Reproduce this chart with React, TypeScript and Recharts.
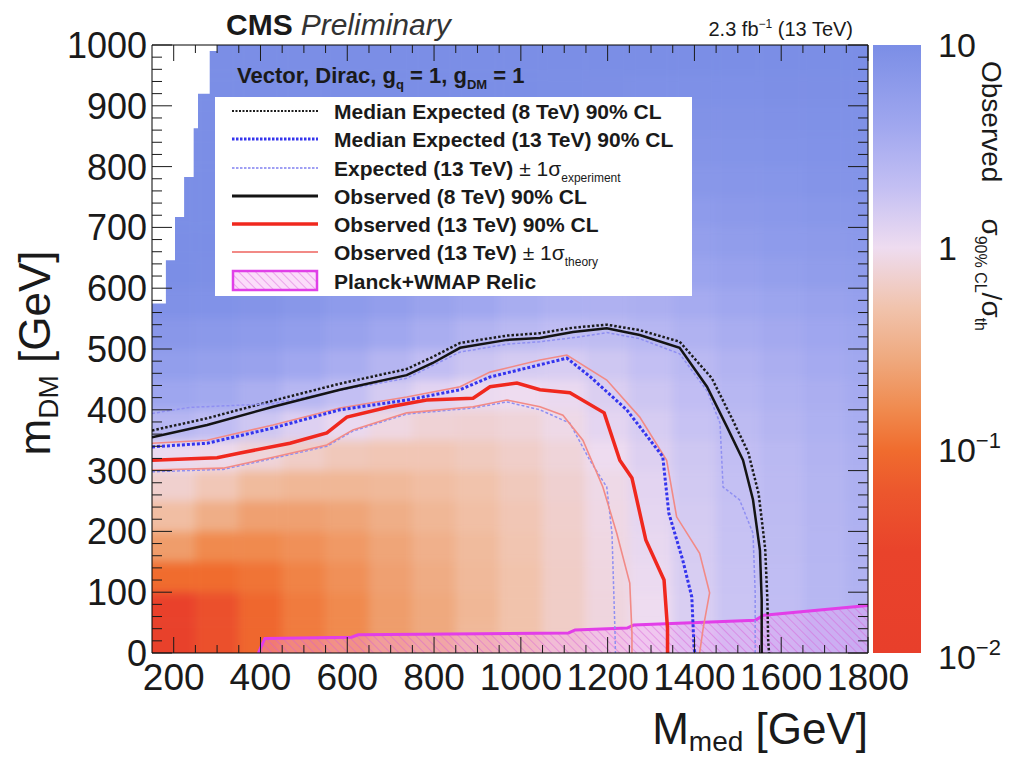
import React from "react";
import { ComposedChart, Line, Area, Bar, XAxis, YAxis, ReferenceArea } from "recharts";

const W = 1011;
const H = 760;
const FONT = '"Liberation Sans", Arial, Helvetica, sans-serif';
const INK = "#1a1a1a";

// tick labels
const medMajorTicks = [200, 400, 600, 800, 1000, 1200, 1400, 1600, 1800];
const dmMajorTicks = [0, 100, 200, 300, 400, 500, 600, 700, 800, 900, 1000];
const zMajorTicks = [0.01, 0.1, 1, 10];
const zTickLabels: Record<string, [string, string]> = {
  "0.01": ["10", "\u22122"],
  "0.1": ["10", "\u22121"],
  "1": ["1", ""],
  "10": ["10", ""],
};

// 2D histogram bins: M_med edges, m_DM edges
const mMedEdges = [150, 250, 350, 450, 550, 650, 750, 850, 950, 1050, 1150, 1250, 1350, 1450, 1550, 1650, 1750, 1800];
const mDmEdges = [0, 50, 100, 150, 200, 250, 300, 350, 400, 450, 500, 550, 600, 650, 700, 750, 800, 850, 900, 950, 1000];

// log10(sigma_90%CL / sigma_th), one row per m_DM bin, bottom row first
const heatRows = [
  [-1.8, -1.3, -1.05, -0.9, -0.8, -0.65, -0.55, -0.4, -0.3, -0.18, -0.08, -0.01, 0.15, 0.25, 0.32, 0.4, 0.45],
  [-1.7, -1.3, -1.05, -0.9, -0.8, -0.65, -0.55, -0.42, -0.3, -0.18, -0.08, 0.0, 0.15, 0.25, 0.32, 0.4, 0.45],
  [-1.0, -1.0, -0.95, -0.85, -0.75, -0.62, -0.52, -0.4, -0.3, -0.18, -0.07, 0.02, 0.16, 0.26, 0.33, 0.4, 0.46],
  [-0.65, -0.8, -0.8, -0.75, -0.68, -0.58, -0.48, -0.38, -0.28, -0.17, -0.06, 0.04, 0.17, 0.27, 0.34, 0.41, 0.47],
  [-0.35, -0.5, -0.62, -0.62, -0.58, -0.5, -0.42, -0.34, -0.26, -0.16, -0.05, 0.06, 0.18, 0.28, 0.35, 0.42, 0.48],
  [-0.15, -0.25, -0.38, -0.42, -0.42, -0.4, -0.35, -0.3, -0.23, -0.14, -0.04, 0.08, 0.2, 0.29, 0.36, 0.43, 0.49],
  [0.02, -0.02, -0.1, -0.18, -0.24, -0.26, -0.26, -0.22, -0.17, -0.1, 0.0, 0.12, 0.22, 0.31, 0.38, 0.45, 0.5],
  [0.4, 0.33, 0.22, 0.12, 0.03, -0.06, -0.12, -0.13, -0.1, -0.04, 0.07, 0.17, 0.27, 0.35, 0.42, 0.48, 0.53],
  [0.62, 0.58, 0.5, 0.4, 0.3, 0.18, 0.08, 0.02, 0.0, 0.03, 0.13, 0.23, 0.32, 0.4, 0.46, 0.51, 0.56],
  [0.75, 0.72, 0.68, 0.6, 0.52, 0.42, 0.32, 0.24, 0.18, 0.16, 0.22, 0.3, 0.38, 0.45, 0.51, 0.56, 0.59],
  [0.85, 0.83, 0.8, 0.75, 0.68, 0.6, 0.52, 0.44, 0.38, 0.33, 0.34, 0.4, 0.46, 0.52, 0.57, 0.61, 0.64],
  [0.95, 0.93, 0.9, 0.86, 0.8, 0.74, 0.67, 0.6, 0.53, 0.48, 0.47, 0.5, 0.55, 0.6, 0.64, 0.68, 0.71],
  [1, 0.98, 0.96, 0.93, 0.89, 0.84, 0.78, 0.71, 0.65, 0.6, 0.59, 0.61, 0.65, 0.69, 0.73, 0.76, 0.78],
  [1, 1, 1, 0.98, 0.95, 0.9, 0.85, 0.79, 0.74, 0.7, 0.69, 0.7, 0.73, 0.76, 0.79, 0.81, 0.83],
  [1, 1, 1, 1, 1, 0.96, 0.92, 0.87, 0.83, 0.8, 0.78, 0.78, 0.8, 0.82, 0.84, 0.86, 0.87],
  [1, 1, 1, 1, 1, 1, 0.97, 0.93, 0.9, 0.87, 0.85, 0.85, 0.86, 0.87, 0.88, 0.9, 0.91],
  [1, 1, 1, 1, 1, 1, 1, 0.97, 0.95, 0.93, 0.91, 0.9, 0.9, 0.91, 0.92, 0.93, 0.94],
  [1, 1, 1, 1, 1, 1, 1, 1, 0.98, 0.96, 0.95, 0.94, 0.94, 0.94, 0.95, 0.96, 0.96],
  [1, 1, 1, 1, 1, 1, 1, 1, 1, 0.99, 0.98, 0.97, 0.97, 0.97, 0.98, 0.98, 0.98],
  [1, 1, 1, 1, 1, 1, 1, 1, 1, 1, 1, 1, 1, 1, 1, 1, 1],
];

// empty bins at top-left: [M_med start, lowest empty m_DM]
const emptyBins = [
  [150, 575], [182, 646], [203, 717], [224, 783], [246, 863], [256, 920], [283, 990], [300, 990],
];

// contours [M_med, m_DM]
const exp8 = [
  [150, 366], [277, 386], [429, 415], [583, 443], [737, 467], [797, 487], [860, 510], [968, 522], [1044, 526],
  [1120, 535], [1198, 540], [1274, 531], [1366, 512], [1440, 452], [1487, 385], [1524, 330], [1548, 262],
  [1563, 172], [1568, 90], [1570, 20], [1572, 0],
];
const exp13 = [
  [150, 339], [277, 345], [429, 370], [583, 400], [737, 416], [860, 433], [929, 454], [1044, 474], [1106, 485],
  [1159, 455], [1244, 400], [1327, 323], [1341, 230], [1373, 153], [1394, 92], [1399, 10], [1401, 0],
];
const exp13Up = [
  [150, 394], [237, 404], [429, 410], [583, 432], [737, 452], [860, 495], [968, 508], [1044, 512], [1136, 520],
  [1198, 527], [1274, 517], [1366, 492], [1430, 430], [1459, 378], [1466, 273], [1504, 252], [1535, 197],
  [1540, 100], [1540, 0],
];
const exp13Down = [
  [150, 298], [314, 302], [429, 320], [553, 340], [613, 365], [737, 393], [890, 403], [968, 413], [1044, 400],
  [1113, 378], [1159, 317], [1198, 273], [1210, 197], [1217, 33], [1218, 0],
];
const obs8 = [
  [150, 355], [277, 375], [429, 405], [583, 433], [737, 457], [797, 477], [860, 502], [968, 515], [1044, 518],
  [1120, 528], [1198, 534], [1274, 523], [1366, 502], [1429, 438], [1475, 372], [1512, 317], [1535, 252],
  [1551, 169], [1555, 87], [1555, 0],
];
const obs13 = [
  [150, 317], [300, 321], [353, 329], [468, 345], [553, 362], [599, 388], [698, 405], [783, 416], [890, 419],
  [929, 438], [991, 444], [1044, 433], [1113, 428], [1192, 395], [1228, 317], [1256, 288], [1288, 186],
  [1330, 120], [1338, 40], [1338, 0],
];
const obs13Up = [
  [150, 345], [277, 350], [429, 375], [583, 403], [737, 421], [860, 438], [929, 462], [1044, 482], [1106, 490],
  [1198, 449], [1274, 388], [1336, 317], [1359, 224], [1412, 164], [1435, 99], [1420, 40], [1412, 0],
];
const obs13Down = [
  [150, 301], [314, 304], [429, 322], [553, 342], [613, 367], [737, 395], [890, 405], [968, 416], [1044, 405],
  [1097, 391], [1143, 350], [1189, 273], [1221, 197], [1251, 115], [1256, 33], [1256, 0],
];
const relic = [
  [395, 0], [410, 24], [610, 26], [625, 30], [1110, 33], [1125, 38], [1245, 41], [1260, 46], [1540, 54],
  [1560, 62], [1800, 78],
];

// colour palette: [log10 value, colour]
const zStops: [number, string][] = [
  [-2, "#e83f2b"], [-1.5, "#e9432b"], [-1.2, "#ec572d"], [-1.0, "#f06c2e"], [-0.8, "#f08a4e"],
  [-0.55, "#efa97e"], [-0.3, "#f1c3ac"], [0, "#eedcf0"], [0.3, "#c3bff3"], [0.6, "#a0a7ef"], [1, "#7b8ee6"],
];
// colour bar spans the palette range
const zRange = [0.01, 10];

const hex = (c: string) => [1, 3, 5].map((i) => parseInt(c.slice(i, i + 2), 16));
function zColor(v: number) {
  const t = Math.max(-2, Math.min(1, v));
  for (let i = 0; i < zStops.length - 1; i++) {
    const [v0, c0] = zStops[i];
    const [v1, c1] = zStops[i + 1];
    if (t <= v1) {
      const f = (t - v0) / (v1 - v0);
      const a = hex(c0);
      const b = hex(c1);
      const m = a.map((x, k) => Math.round(x + (b[k] - x) * f));
      return `rgb(${m[0]},${m[1]},${m[2]})`;
    }
  }
  return zStops[zStops.length - 1][1];
}

const toPts = (arr: number[][]) => arr.map(([x, y]) => ({ x, y }));

// outer cells are drawn a little past the frame so the soft blur does not fade at the border
const nCols = mMedEdges.length - 1;
const nRows = mDmEdges.length - 1;
const heatCells = heatRows.flatMap((row, r) =>
  row.map((v, c) => ({
    key: `${r}-${c}`,
    x1: mMedEdges[c] - (c === 0 ? 40 : 0),
    x2: mMedEdges[c + 1] + (c === nCols - 1 ? 40 : 0),
    y1: mDmEdges[r] - (r === 0 ? 30 : 0),
    y2: mDmEdges[r + 1] + (r === nRows - 1 ? 30 : 0),
    fill: zColor(v),
  }))
);

const emptyData = emptyBins.map(([x, lo]) => ({ x, y: [lo, 1000] }));
const zBarData = [{ name: "z", range: zRange }];

const steps = (from: number, to: number, step: number) => {
  const out: number[] = [];
  for (let v = from; v <= to + 1e-9; v += step) out.push(Math.round(v));
  return out;
};
const medTicks = steps(200, 1800, 50);
const dmTicks = steps(0, 1000, 20);
const zMinorTicks = [0.01, 0.1, 1].flatMap((d) => [2, 3, 4, 5, 6, 7, 8, 9].map((k) => Number((d * k).toPrecision(3))));

const contourStyles = [
  { data: exp8, stroke: "#1c1c1c", width: 2.5, dash: "2.5 2" },
  { data: exp13Up, stroke: "#8f8ff2", width: 1.5, dash: "3 2" },
  { data: exp13Down, stroke: "#8f8ff2", width: 1.5, dash: "3 2" },
  { data: obs8, stroke: "#141414", width: 2.5, dash: undefined },
  { data: obs13Up, stroke: "#f28a86", width: 1.6, dash: undefined },
  { data: obs13Down, stroke: "#f28a86", width: 1.6, dash: undefined },
  { data: exp13, stroke: "#3434ee", width: 3, dash: "3 2" },
  { data: obs13, stroke: "#f0281e", width: 3.5, dash: undefined },
];

function FrameTick(props: any) {
  const { x, y, payload, side } = props;
  const v = Number(payload.value);
  const horiz = side === "bottom" || side === "top";
  const major = horiz ? medMajorTicks.includes(v) : dmMajorTicks.includes(v);
  const len = horiz ? (major ? 16 : 8) : major ? 20 : 10;
  let x2 = x;
  let y2 = y;
  if (side === "bottom") y2 = y - len;
  if (side === "top") y2 = y + len;
  if (side === "left") x2 = x + len;
  if (side === "right") x2 = x - len;
  return (
    <g>
      <line x1={x} y1={y} x2={x2} y2={y2} stroke={INK} strokeWidth={1} />
      {major && side === "bottom" && (
        <text x={x} y={y + 37} textAnchor="middle" fontSize={37} fill={INK} fontFamily={FONT}>
          {v}
        </text>
      )}
      {major && side === "left" && (
        <text x={x - 5} y={y + 13} textAnchor="end" fontSize={36} fill={INK} fontFamily={FONT}>
          {v}
        </text>
      )}
    </g>
  );
}

function ZLabel(props: any) {
  const { x, y, payload } = props;
  const v = Number(payload.value);
  const label = zTickLabels[String(v)];
  if (!label) return <g />;
  return (
    <text x={x + 17} y={y + (v === 0.01 ? 16 : 12)} fontSize={34} fill={INK} fontFamily={FONT}>
      {label[0]}
      {label[1] && (
        <tspan dy={-14} fontSize={22}>
          {label[1]}
        </tspan>
      )}
    </text>
  );
}

const legendRows = [
  { kind: "line", stroke: "#1c1c1c", width: 2, dash: "2 1.5", text: "Median Expected (8 TeV) 90% CL" },
  { kind: "line", stroke: "#3434ee", width: 3, dash: "2.5 1.5", text: "Median Expected (13 TeV) 90% CL" },
  { kind: "line", stroke: "#9f9ff4", width: 2, dash: "2.5 1.5", text: "Expected (13 TeV)", pm: "experiment" },
  { kind: "line", stroke: "#141414", width: 3, text: "Observed (8 TeV) 90% CL" },
  { kind: "line", stroke: "#f0281e", width: 3.5, text: "Observed (13 TeV) 90% CL" },
  { kind: "line", stroke: "#f28a86", width: 1.8, text: "Observed (13 TeV)", pm: "theory" },
  { kind: "box", stroke: "#e040e8", width: 2.5, text: "Planck+WMAP Relic" },
];
const legendRowY = [111, 139, 168, 196, 224, 252, 281];

function ZTickLayer({ ticks, size }: { ticks: number[]; size: number }) {
  return (
    <div style={{ position: "absolute", left: 0, top: 0, pointerEvents: "none" }}>
      <ComposedChart width={W} height={H} data={zBarData} margin={{ top: 45, right: 89, bottom: 107, left: 873 }}>
        <XAxis type="category" dataKey="name" hide />
        <YAxis
          type="number"
          orientation="right"
          scale="log"
          domain={[0.01, 10]}
          allowDataOverflow
          width={1}
          ticks={ticks}
          interval={0}
          tickSize={-size}
          tickMargin={0}
          tickLine={{ stroke: "#222", strokeWidth: 1.2 }}
          axisLine={false}
          tick={false}
        />
      </ComposedChart>
    </div>
  );
}

export default function App() {
  const plotMargin = { top: 45, right: 143, bottom: 107, left: 152 };
  return (
    <div style={{ position: "relative", width: W, height: H, background: "#fff", fontFamily: FONT }}>
      <style>{"body{margin:0}"}</style>
      <svg width={0} height={0} style={{ position: "absolute" }}>
        <defs>
          <pattern id="relicHatch" width="6" height="6" patternUnits="userSpaceOnUse" patternTransform="rotate(-45)">
            <rect width="6" height="6" fill="#f49cf0" fillOpacity="0.35" />
            <line x1="0" y1="0" x2="0" y2="6" stroke="#d458d4" strokeWidth="1.1" strokeOpacity="0.8" />
          </pattern>
          <linearGradient id="zGrad" x1="0" y1="0" x2="0" y2="1">
            {[...zStops].reverse().map(([v, c]) => (
              <stop key={v} offset={`${((1 - v) / 3) * 100}%`} stopColor={c} />
            ))}
          </linearGradient>
        </defs>
      </svg>

      {/* colour map, softened and clipped to the frame */}
      <div
        style={{
          position: "absolute",
          left: 0,
          top: 0,
          filter: "blur(5px)",
          clipPath: `inset(${plotMargin.top}px ${plotMargin.right}px ${plotMargin.bottom}px ${plotMargin.left}px)`,
        }}
      >
        <ComposedChart width={W} height={H} margin={plotMargin}>
          <XAxis type="number" dataKey="x" domain={[150, 1800]} allowDataOverflow hide />
          <YAxis type="number" dataKey="y" domain={[0, 1000]} allowDataOverflow hide />
          {heatCells.map((c) => (
            <ReferenceArea
              key={c.key}
              x1={c.x1}
              x2={c.x2}
              y1={c.y1}
              y2={c.y2}
              fill={c.fill}
              fillOpacity={1}
              stroke={c.fill}
              strokeWidth={0.6}
              ifOverflow="visible"
            />
          ))}
        </ComposedChart>
      </div>

      {/* colour bar with labels */}
      <div style={{ position: "absolute", left: 0, top: 0 }}>
        <ComposedChart
          width={W}
          height={H}
          data={zBarData}
          barCategoryGap={0}
          margin={{ top: 45, right: 89, bottom: 107, left: 873 }}
        >
          <XAxis type="category" dataKey="name" hide />
          <Bar dataKey="range" fill="url(#zGrad)" isAnimationActive={false} />
          <YAxis
            type="number"
            orientation="right"
            scale="log"
            domain={[0.01, 10]}
            allowDataOverflow
            width={1}
            ticks={zMajorTicks}
            interval={0}
            tickSize={0}
            tickMargin={0}
            tickLine={false}
            axisLine={false}
            tick={(p: any) => <ZLabel {...p} />}
          />
        </ComposedChart>
      </div>

      {/* empty bins, relic, contours and frame */}
      <div style={{ position: "absolute", left: 0, top: 0 }}>
        <ComposedChart width={W} height={H} margin={{ top: 44, right: 142, bottom: 106, left: 151 }}>
          <XAxis
            type="number"
            dataKey="x"
            domain={[150, 1800]}
            allowDataOverflow
            height={1}
            ticks={medTicks}
            interval={0}
            tickSize={0}
            tickMargin={0}
            axisLine={{ stroke: "#000", strokeWidth: 1 }}
            tick={(p: any) => <FrameTick {...p} side="bottom" />}
          />
          <XAxis
            xAxisId="top"
            orientation="top"
            type="number"
            dataKey="x"
            domain={[150, 1800]}
            allowDataOverflow
            height={1}
            ticks={medTicks}
            interval={0}
            tickSize={0}
            tickMargin={0}
            axisLine={{ stroke: "#000", strokeWidth: 1 }}
            tick={(p: any) => <FrameTick {...p} side="top" />}
          />
          <YAxis
            type="number"
            dataKey="y"
            domain={[0, 1000]}
            allowDataOverflow
            width={1}
            ticks={dmTicks}
            interval={0}
            tickSize={0}
            tickMargin={0}
            axisLine={{ stroke: "#000", strokeWidth: 1 }}
            tick={(p: any) => <FrameTick {...p} side="left" />}
          />
          <YAxis
            yAxisId="right"
            orientation="right"
            type="number"
            dataKey="y"
            domain={[0, 1000]}
            allowDataOverflow
            width={1}
            ticks={dmTicks}
            interval={0}
            tickSize={0}
            tickMargin={0}
            axisLine={{ stroke: "#000", strokeWidth: 1 }}
            tick={(p: any) => <FrameTick {...p} side="right" />}
          />
          <Area
            data={emptyData}
            dataKey="y"
            type="stepAfter"
            fill="#ffffff"
            fillOpacity={1}
            stroke="none"
            isAnimationActive={false}
          />
          <Area
            data={toPts(relic)}
            dataKey="y"
            type="linear"
            baseValue={0}
            fill="url(#relicHatch)"
            fillOpacity={1}
            stroke="#e23ee8"
            strokeWidth={3}
            isAnimationActive={false}
          />
          {contourStyles.map((s, i) => (
            <Line
              key={i}
              data={toPts(s.data)}
              dataKey="y"
              type="linear"
              stroke={s.stroke}
              strokeWidth={s.width}
              strokeDasharray={s.dash}
              dot={false}
              activeDot={false}
              isAnimationActive={false}
            />
          ))}
        </ComposedChart>
      </div>

      {/* colour-bar tick marks on top */}
      <ZTickLayer ticks={zMajorTicks} size={23} />
      <ZTickLayer ticks={zMinorTicks} size={12} />

      {/* texts and legend */}
      <svg width={W} height={H} style={{ position: "absolute", left: 0, top: 0, pointerEvents: "none" }} fontFamily={FONT}>
        <text x={226} y={35} fontSize={30} fill={INK}>
          <tspan fontWeight="bold">CMS</tspan>
          <tspan dx={8} fontStyle="italic" fill="#333">
            Preliminary
          </tspan>
        </text>
        <text x={853} y={36} textAnchor="end" fontSize={20} fill={INK}>
          2.3 fb<tspan dy={-8} fontSize={12}>{"\u22121"}</tspan>
          <tspan dy={8}> (13 TeV)</tspan>
        </text>
        <text x={237} y={83} fontSize={22} fontWeight="bold" fill={INK}>
          Vector, Dirac, g<tspan dy={6} fontSize={13}>q</tspan>
          <tspan dy={-6}> = 1, g</tspan>
          <tspan dy={6} fontSize={13}>DM</tspan>
          <tspan dy={-6}> = 1</tspan>
        </text>

        <rect x={215} y={97} width={477} height={199} fill="#fff" />
        {legendRows.map((r, i) => {
          const cy = legendRowY[i];
          return (
            <g key={i}>
              {r.kind === "line" ? (
                <line x1={232} x2={318} y1={cy} y2={cy} stroke={r.stroke} strokeWidth={r.width} strokeDasharray={r.dash} />
              ) : (
                <rect x={233} y={cy - 10} width={84} height={19} fill="url(#relicHatch)" stroke={r.stroke} strokeWidth={r.width} />
              )}
              <text x={334} y={cy + 7.5} fontSize={21} fontWeight="bold" fill={INK}>
                {r.text}
                {r.pm && (
                  <>
                    <tspan fontWeight="normal"> {"\u00b1"} 1{"\u03c3"}</tspan>
                    <tspan fontWeight="normal" fontSize={12} dy={6}>
                      {r.pm}
                    </tspan>
                  </>
                )}
              </text>
            </g>
          );
        })}

        <text transform="translate(50,353) rotate(-90)" textAnchor="middle" fontSize={44} fill={INK}>
          m<tspan dy={8} fontSize={28}>DM</tspan>
          <tspan dy={-8}> [GeV]</tspan>
        </text>
        <text x={868} y={744} textAnchor="end" fontSize={44} fill={INK}>
          M<tspan dy={7} fontSize={28}>med</tspan>
          <tspan dy={-7}> [GeV]</tspan>
        </text>
        <text transform="translate(982,61) rotate(90)" fontSize={28} fill={INK}>
          Observed
          <tspan dx={36}>{"\u03c3"}</tspan>
          <tspan dy={7} fontSize={16}>90% CL</tspan>
          <tspan dy={-7}>/{"\u03c3"}</tspan>
          <tspan dy={7} fontSize={16}>th</tspan>
        </text>
      </svg>
    </div>
  );
}
